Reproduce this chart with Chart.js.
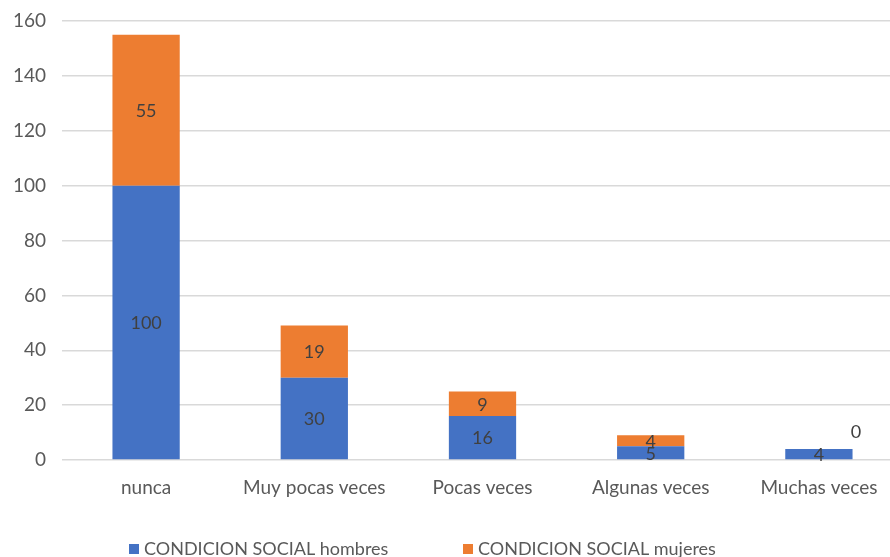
<!DOCTYPE html>
<html>
<head>
<meta charset="utf-8">
<script src="https://cdn.jsdelivr.net/npm/chart.js@4/dist/chart.umd.min.js"></script>
<style>
  html, body { margin: 0; padding: 0; background: #fff; overflow: hidden; }
  #wrap { width: 905px; height: 557px; }
</style>
</head>
<body>
<div id="wrap"><canvas id="bar-chart" width="905" height="557"></canvas></div>
<script>
// data
const categories = ["nunca", "Muy pocas veces", "Pocas veces", "Algunas veces", "Muchas veces"];
const hombres = [100, 30, 16, 5, 4];
const mujeres = [55, 19, 9, 4, 0];
const yTicks = [0, 20, 40, 60, 80, 100, 120, 140, 160];

const seriesNames = ["CONDICION SOCIAL hombres", "CONDICION SOCIAL mujeres"];
const blue = "#4472C4";
const orange = "#ED7D31";
const fontFamily = "Lato, 'Open Sans', sans-serif";

// values written inside each bar segment
const barLabels = {
  id: "barLabels",
  afterDatasetsDraw(chart) {
    const ctx = chart.ctx;
    ctx.save();
    ctx.font = "18px " + fontFamily;
    ctx.fillStyle = "#404040";
    ctx.textAlign = "center";
    ctx.textBaseline = "middle";
    chart.data.datasets.forEach(function(ds, i) {
      chart.getDatasetMeta(i).data.forEach(function(bar, j) {
        const v = ds.data[j];
        if (v === 0) {
          // Excel puts the zero label above and to the right
          ctx.fillText(String(v), bar.x + 37, bar.y - 17);
        } else {
          ctx.fillText(String(v), bar.x, (bar.y + bar.base) / 2 + 1);
        }
      });
    });
    ctx.restore();
  }
};

// legend drawn under the axis, two items spread apart like the original
const bottomLegend = {
  id: "bottomLegend",
  afterDraw(chart) {
    const ctx = chart.ctx;
    const starts = [129, 463];
    ctx.save();
    ctx.font = "18px " + fontFamily;
    ctx.textBaseline = "middle";
    ctx.textAlign = "left";
    chart.data.datasets.forEach(function(ds, i) {
      ctx.fillStyle = ds.backgroundColor;
      ctx.fillRect(starts[i], 544, 10, 10);
      ctx.fillStyle = "#595959";
      ctx.fillText(ds.label, starts[i] + 15, 549);
    });
    ctx.restore();
  }
};

document.addEventListener("DOMContentLoaded", function() {
  const ctx = document.getElementById("bar-chart").getContext("2d");
  new Chart(ctx, {
    type: "bar",
    data: {
      labels: categories,
      datasets: [
        { label: seriesNames[0], data: hombres, backgroundColor: blue, categoryPercentage: 1, barPercentage: 0.4 },
        { label: seriesNames[1], data: mujeres, backgroundColor: orange, categoryPercentage: 1, barPercentage: 0.4 }
      ]
    },
    options: {
      responsive: false,
      animation: false,
      layout: { padding: { left: 5, right: 2, top: 21, bottom: 0 } },
      plugins: {
        legend: { display: false },
        tooltip: { enabled: false }
      },
      scales: {
        x: {
          stacked: true,
          grid: { display: false },
          border: { display: false },
          ticks: { color: "#595959", font: { size: 19, family: fontFamily }, padding: 8, maxRotation: 0 },
          afterFit: function(scale) { scale.height = 97; }
        },
        y: {
          stacked: true,
          min: 0,
          max: 160,
          afterBuildTicks: function(scale) { scale.ticks = yTicks.map(v => ({ value: v })); },
          grid: { color: "#d9d9d9", lineWidth: 1.5, drawTicks: false },
          border: { display: false },
          ticks: { color: "#595959", font: { size: 19, family: fontFamily }, padding: 16 },
          afterFit: function(scale) { scale.width = 57; scale.paddingTop = 0; }
        }
      }
    },
    plugins: [barLabels, bottomLegend]
  });
});
</script>
</body>
</html>
